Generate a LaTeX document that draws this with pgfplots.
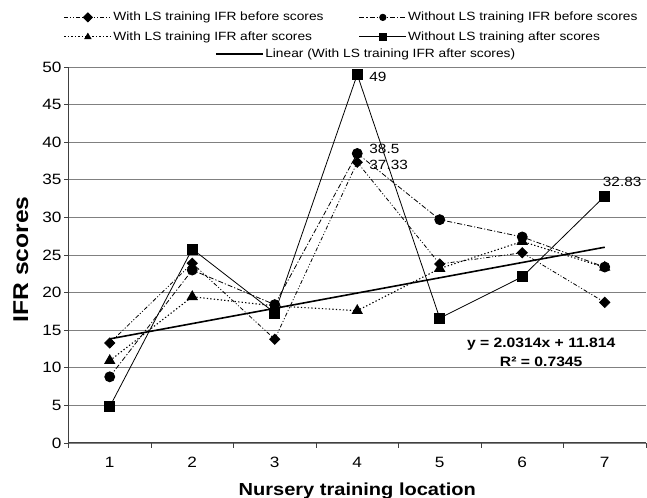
\documentclass[border=0pt]{standalone}
\usepackage{fontspec}
\setmainfont{Liberation Sans}[FakeStretch=1.15]
\usepackage{pgfplots}
\pgfplotsset{compat=1.18}
\begin{document}
\begin{tikzpicture}
\begin{axis}[
  name=main,
  scale only axis, width=577.5bp, height=376bp,
  xmin=0.5, xmax=7.5, ymin=0, ymax=50,
  axis x line*=bottom, axis y line*=left,
  axis line style={black!75, line width=1bp},
  xtick={1,...,7},
  minor xtick={0.5,1.5,...,7.5},
  ytick={0,5,...,50},
  tick align=outside,
  major tick length=4bp, minor tick length=5bp,
  major x tick style={draw=none},
  minor x tick style={draw=black!75, line width=0.8bp},
  ytick style={draw=black!75, line width=0.8bp},
  ymajorgrids, grid style={black!50, line width=0.8bp},
  /pgf/number format/assume math mode=true,
  tick label style={font=\fontsize{15}{17}\selectfont},
  yticklabel style={xshift=0.5bp},
  xticklabel style={yshift=-7bp},
  xlabel={Nursery training location},
  xlabel style={font=\bfseries\fontsize{17.5}{20}\selectfont, at={(axis description cs:0.5,-0.1383)}, anchor=base},
  ylabel={IFR scores},
  ylabel style={font=\bfseries\fontsize{21.5}{24}\selectfont, at={(axis description cs:-0.0701,0.488)}, anchor=base},
  clip=false,
  legend columns=2,
  legend cell align=left,
  legend style={draw=none, fill=none, at={(axis description cs:0.494,1.106)}, anchor=center,
    font=\fontsize{12}{14}\selectfont, row sep=5bp, inner sep=0pt, column sep=0pt,
    nodes={inner sep=1.5bp, text height=9bp, text depth=2.5bp}},
  legend image code/.code={\draw[mark repeat=2,mark phase=2,#1,mark size=3.2bp] plot coordinates {(0bp,0bp) (23.5bp,0bp) (47bp,0bp)};},
]
% With LS training IFR before scores
\addplot[black, line width=0.8bp, dash pattern=on 4bp off 2bp on 1bp off 2bp on 1bp off 2bp,
  mark=square*, mark size=3.6bp, mark options={solid, rotate=45}]
  coordinates {(1,13.3) (2,23.9) (3,13.8) (4,37.33) (5,23.8) (6,25.3) (7,18.7)};
\addlegendentry{\makebox[244bp][l]{With LS training IFR before scores}}
% Without LS training IFR before scores
\addplot[black, line width=0.8bp, dash pattern=on 5bp off 2bp on 1.2bp off 2bp,
  mark=*, mark size=5bp, mark options={solid}]
  coordinates {(1,8.8) (2,23.0) (3,18.4) (4,38.5) (5,29.7) (6,27.4) (7,23.4)};
\addlegendentry{\makebox[234bp][l]{Without LS training IFR before scores}}
% With LS training IFR after scores
\addplot[black, line width=1.1bp, dash pattern=on 1.3bp off 2.2bp,
  mark=triangle*, mark size=5.5bp, mark options={solid}]
  coordinates {(1,10.95) (2,19.45) (3,18.23) (4,17.6) (5,23.2) (6,26.8) (7,23.35)};
\addlegendentry{\makebox[244bp][l]{With LS training IFR after scores}}
% Without LS training after scores
\addplot[black, line width=0.8bp, mark=square*, mark size=5bp, mark options={solid}]
  coordinates {(1,4.83) (2,25.8) (3,17.3) (4,49) (5,16.6) (6,22.1) (7,32.83)};
\addlegendentry{\makebox[234bp][l]{Without LS training after scores}}
% Linear trend
\addplot[black, line width=1.6bp, forget plot]
  coordinates {(1,13.8454) (7,26.0338)};
\node[anchor=west, inner sep=0pt, font=\fontsize{13.4}{15}\selectfont, xshift=12bp, yshift=-2bp] at (axis cs:4,49) {49};
\node[anchor=west, inner sep=0pt, font=\fontsize{13.4}{15}\selectfont, xshift=12bp, yshift=4.5bp] at (axis cs:4,38.5) {38.5};
\node[anchor=west, inner sep=0pt, font=\fontsize{13.4}{15}\selectfont, xshift=12bp, yshift=-3bp] at (axis cs:4,37.33) {37.33};
\node[anchor=west, inner sep=0pt, font=\fontsize{13.4}{15}\selectfont, xshift=-2bp, yshift=14bp] at (axis cs:7,32.83) {32.83};
\node[align=center, inner sep=0pt, font=\bfseries\fontsize{13.7}{19}\selectfont] at (axis cs:6.23,12.05) {y = 2.0314x + 11.814\\R² = 0.7345};
\end{axis}
\begin{axis}[
  at={(main.south west)}, anchor=south west,
  scale only axis, width=577.5bp, height=376bp,
  hide axis, xmin=0.5, xmax=7.5, ymin=0, ymax=50,
  legend style={draw=none, fill=none, at={(axis description cs:0.515,1.034)}, anchor=center,
    font=\fontsize{12}{14}\selectfont, inner sep=0pt,
    nodes={inner sep=1.5bp, text height=9bp, text depth=2.5bp}},
  legend image code/.code={\draw[#1] (0bp,0bp) -- (47bp,0bp);},
]
\addlegendimage{black, line width=1.6bp}
\addlegendentry{Linear (With LS training IFR after scores)}
\end{axis}
\pgfresetboundingbox
\path ([shift={(-68.5bp,-55bp)}]main.south west) rectangle ([shift={(1bp,67bp)}]main.north east);
\end{tikzpicture}
\end{document}
